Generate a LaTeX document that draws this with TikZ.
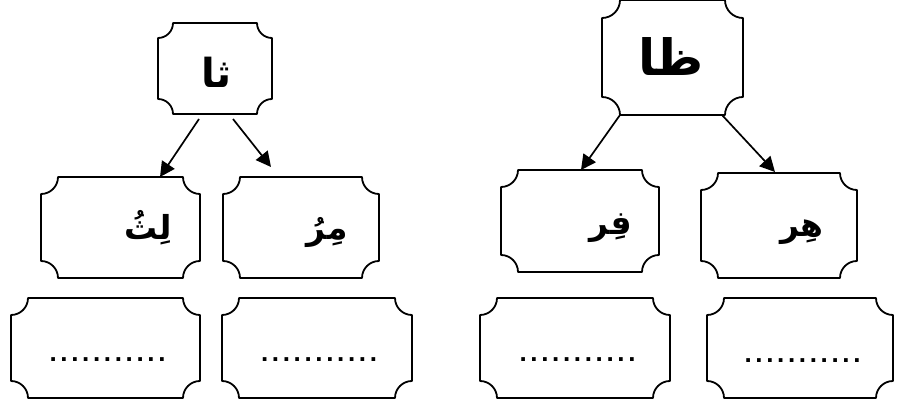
\documentclass[tikz,border=0pt]{standalone}
\usepackage{fontspec}
\usetikzlibrary{arrows.meta}
\newfontfamily\arabicfont[Script=Arabic]{DejaVu Sans}
\newfontfamily\dotfont[LetterSpace=14]{Liberation Sans}
\TeXXeTstate=1
\newcommand\cornerframe[2]{%
  \draw[frame] ([xshift=#2pt]#1.north west) -- ([xshift=-#2pt]#1.north east)
    arc[start angle=180,end angle=270,radius=#2pt]
    -- ([yshift=#2pt]#1.south east)
    arc[start angle=90,end angle=180,radius=#2pt]
    -- ([xshift=#2pt]#1.south west)
    arc[start angle=0,end angle=90,radius=#2pt]
    -- ([yshift=-#2pt]#1.north west)
    arc[start angle=270,end angle=360,radius=#2pt]
    -- cycle;}
\tikzset{
  frame/.style={line width=1.8pt, line join=round},
  boxarea/.style={rectangle, inner sep=0pt, outer sep=0pt, minimum width=#1},
  lbl/.style={inner sep=0pt, anchor=base},
  dotrow/.style={inner sep=0pt, anchor=base, font=\dotfont\bfseries\fontsize{26}{28}\selectfont},
  arr/.style={line width=1.7pt, -{Triangle[length=15pt,width=15pt]}}
}
\begin{document}
\begin{tikzpicture}[x=1pt,y=1pt]
\useasboundingbox (0,0) rectangle (905,-401);
% top boxes
\node[boxarea=114pt, minimum height=91pt] (t1) at (215,-68.5) {};
\node[boxarea=141pt, minimum height=115pt] (t2) at (672.5,-57.5) {};
% middle boxes
\node[boxarea=159pt, minimum height=101pt] (m1) at (120.5,-227.5) {};
\node[boxarea=156pt, minimum height=101pt] (m2) at (301,-227.5) {};
\node[boxarea=158pt, minimum height=102pt] (m3) at (580,-221) {};
\node[boxarea=156pt, minimum height=105pt] (m4) at (779,-225.5) {};
% bottom boxes
\node[boxarea=189pt, minimum height=100pt] (b1) at (105.5,-348) {};
\node[boxarea=190pt, minimum height=100pt] (b2) at (317,-348) {};
\node[boxarea=190pt, minimum height=100pt] (b3) at (575,-348) {};
\node[boxarea=186pt, minimum height=100pt] (b4) at (800,-348) {};
\cornerframe{t1}{15}
\cornerframe{t2}{18}
\cornerframe{m1}{17}
\cornerframe{m2}{17}
\cornerframe{m3}{17}
\cornerframe{m4}{17}
\cornerframe{b1}{17}
\cornerframe{b2}{17}
\cornerframe{b3}{17}
\cornerframe{b4}{17}
% labels
\node[lbl, font=\arabicfont\bfseries\fontsize{40}{44}\selectfont] (l1) at (217,-88) {\beginR ثا\endR};
\node[lbl, font=\arabicfont\bfseries\fontsize{50}{56}\selectfont] (l2) at (671,-76) {\beginR ظا\endR};
\node[lbl, font=\arabicfont\bfseries\fontsize{33}{36}\selectfont] (l3) at (148,-239) {\beginR لِثُ\endR};
\node[lbl, font=\arabicfont\bfseries\fontsize{33}{36}\selectfont] (l4) at (327,-239) {\beginR مِرُ\endR};
\node[lbl, font=\arabicfont\bfseries\fontsize{33}{36}\selectfont] (l5) at (611,-234) {\beginR فِر\endR};
\node[lbl, font=\arabicfont\bfseries\fontsize{33}{36}\selectfont] (l6) at (802,-236) {\beginR هِر\endR};
% dots
\node[dotrow] (d1) at (107.5,-361) {...........};
\node[dotrow] (d2) at (319,-361) {...........};
\node[dotrow] (d3) at (577.5,-361) {...........};
\node[dotrow] (d4) at (802.5,-362) {...........};
% arrows
\draw[arr] ([shift={(-16pt,-5pt)}]t1.south) -- ([xshift=39.5pt]m1.north);
\draw[arr] ([shift={(18pt,-5pt)}]t1.south) -- ([shift={(-30pt,10pt)}]m2.north);
\draw[arr] ([xshift=-52.5pt]t2.south) -- ([xshift=1pt]m3.north);
\draw[arr] ([xshift=49.5pt]t2.south) -- ([shift={(-4pt,1pt)}]m4.north);
\end{tikzpicture}
\end{document}
